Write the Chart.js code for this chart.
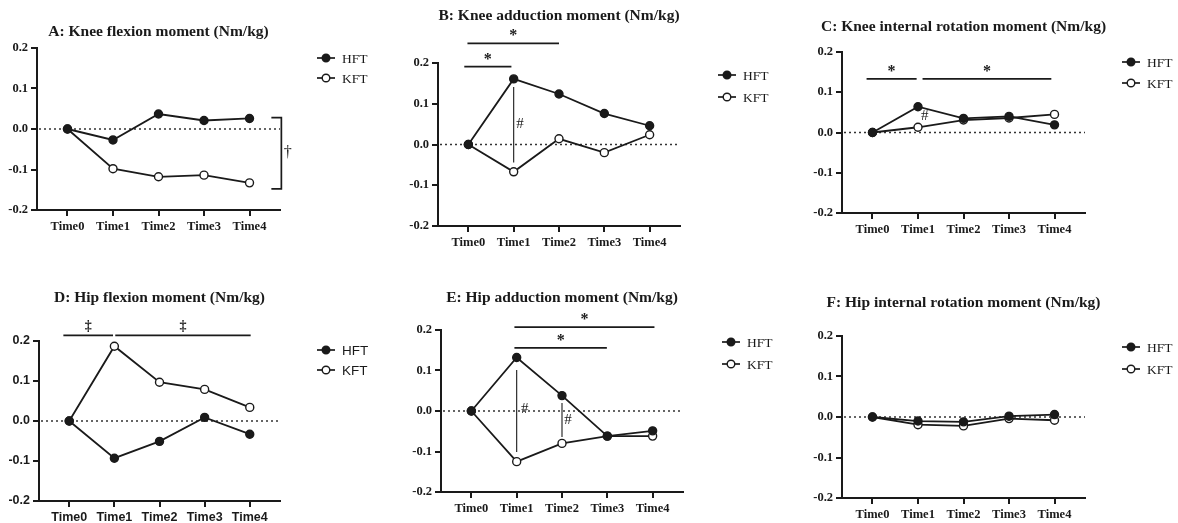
<!DOCTYPE html>
<html>
<head>
<meta charset="utf-8">
<script src="https://cdn.jsdelivr.net/npm/chart.js@4.4.1/dist/chart.umd.min.js"></script>
<style>
  body { margin: 0; background: #fff; }
  #wrap { position: relative; width: 1178px; height: 523px; overflow: hidden; }
  canvas { position: absolute; }
</style>
</head>
<body>
<div id="wrap"></div>
<script>
var categories = ["Time0", "Time1", "Time2", "Time3", "Time4"];
var seriesNames = ["HFT", "KFT"];
var yTicks = [-0.2, -0.1, 0, 0.1, 0.2];

var kneeFlexHFT = [0, -0.027, 0.037, 0.021, 0.026];
var kneeFlexKFT = [0, -0.098, -0.118, -0.114, -0.133];
var kneeAddHFT = [0, 0.161, 0.124, 0.076, 0.046];
var kneeAddKFT = [0, -0.067, 0.014, -0.020, 0.024];
var kneeRotHFT = [0, 0.064, 0.035, 0.040, 0.019];
var kneeRotKFT = [0, 0.013, 0.031, 0.036, 0.045];
var hipFlexHFT = [0, -0.093, -0.051, 0.009, -0.033];
var hipFlexKFT = [0, 0.187, 0.097, 0.079, 0.034];
var hipAddHFT = [0, 0.132, 0.038, -0.062, -0.049];
var hipAddKFT = [0, -0.125, -0.080, -0.062, -0.062];
var hipRotHFT = [0, -0.010, -0.012, 0.002, 0.006];
var hipRotKFT = [0, -0.019, -0.022, -0.004, -0.008];

// significance bars: from/to on the time axis, y in Nm/kg
var kneeAddSig = [{ from: -0.02, to: 2, y: 0.248, mark: "*" }, { from: -0.09, to: 0.95, y: 0.191, mark: "*" }];
var kneeRotSig = [{ from: -0.13, to: 0.97, y: 0.133, mark: "*" }, { from: 1.1, to: 3.93, y: 0.133, mark: "*" }];
var hipFlexSig = [{ from: -0.13, to: 0.97, y: 0.214, mark: "\u2021" }, { from: 1.02, to: 4.02, y: 0.214, mark: "\u2021" }];
var hipAddSig = [{ from: 0.95, to: 4.04, y: 0.207, mark: "*" }, { from: 0.95, to: 2.99, y: 0.156, mark: "*" }];

// group differences at one time point
var kneeAddDiff = [{ x: 1, y1: 0.141, y2: -0.044, mx: 1.14, my: 0.05 }];
var kneeRotDiff = [{ x: 1, y1: null, y2: null, mx: 1.15, my: 0.04 }];
var hipAddDiff = [{ x: 1, y1: 0.101, y2: -0.101, mx: 1.18, my: 0.004 }, { x: 2, y1: 0.02, y2: -0.064, mx: 2.13, my: -0.022 }];

var kneeFlexBracket = { x: 4.7, y1: 0.028, y2: -0.148, mx: 4.84, my: -0.058 };

var panels = [
  { title: "A: Knee flexion moment (Nm/kg)", hft: kneeFlexHFT, kft: kneeFlexKFT, sig: [], diff: [], bracket: kneeFlexBracket },
  { title: "B: Knee adduction moment (Nm/kg)", hft: kneeAddHFT, kft: kneeAddKFT, sig: kneeAddSig, diff: kneeAddDiff },
  { title: "C: Knee internal rotation moment (Nm/kg)", hft: kneeRotHFT, kft: kneeRotKFT, sig: kneeRotSig, diff: kneeRotDiff },
  { title: "D: Hip flexion moment (Nm/kg)", hft: hipFlexHFT, kft: hipFlexKFT, sig: hipFlexSig, diff: [] },
  { title: "E: Hip adduction moment (Nm/kg)", hft: hipAddHFT, kft: hipAddKFT, sig: hipAddSig, diff: hipAddDiff },
  { title: "F: Hip internal rotation moment (Nm/kg)", hft: hipRotHFT, kft: hipRotKFT, sig: [], diff: [] }
];

// page layout: canvas box [x,y,w,h], plot area [l,t,r,b], title centre y, legend [dx, dy, gap]
var layout = [
  { box: [0, 0, 390, 262], area: [37, 48, 280, 210], titleY: 32, legend: [37, 10, 20], sans: false },
  { box: [390, 0, 390, 262], area: [438, 63, 680, 226], titleY: 16, legend: [38, 12, 22], sans: false },
  { box: [780, 0, 398, 262], area: [842, 52, 1085, 213], titleY: 27, legend: [37, 10, 21], sans: false },
  { box: [0, 262, 390, 261], area: [39, 341, 280, 501], titleY: 298, legend: [37, 9, 20], sans: true },
  { box: [390, 262, 390, 261], area: [441, 330, 683, 492], titleY: 298, legend: [39, 12, 22], sans: false },
  { box: [780, 262, 398, 261], area: [842, 336, 1085, 498], titleY: 303, legend: [37, 11, 22], sans: false }
];

var INK = "#1a1a1a";
var SERIF = '"Liberation Serif", "Times New Roman", serif';
var SANS = '"Liberation Sans", Arial, sans-serif';
var AXIS_W = 30, AXIS_H = 20;

function overlayPlugin(p, lay) {
  return {
    id: "overlay",
    beforeDatasetsDraw: function (chart) {
      var ctx = chart.ctx, a = chart.chartArea, y0 = chart.scales.y.getPixelForValue(0);
      ctx.save();
      ctx.strokeStyle = "#333";
      ctx.lineWidth = 1.5;
      ctx.setLineDash([2, 3]);
      ctx.beginPath();
      ctx.moveTo(a.left + 2, y0);
      ctx.lineTo(a.right, y0);
      ctx.stroke();
      ctx.restore();
    },
    afterDatasetsDraw: function (chart) {
      var ctx = chart.ctx, a = chart.chartArea, xs = chart.scales.x, ys = chart.scales.y;
      ctx.save();
      ctx.fillStyle = INK;
      ctx.strokeStyle = INK;

      // title
      ctx.font = "bold 15.5px " + SERIF;
      ctx.textAlign = "center";
      ctx.textBaseline = "middle";
      ctx.fillText(p.title, (a.left + a.right) / 2, lay.titleY - lay.box[1]);

      // significance bars
      p.sig.forEach(function (s) {
        var x1 = xs.getPixelForValue(s.from), x2 = xs.getPixelForValue(s.to), y = ys.getPixelForValue(s.y);
        ctx.lineWidth = 1.7;
        ctx.beginPath();
        ctx.moveTo(x1, y);
        ctx.lineTo(x2, y);
        ctx.stroke();
        ctx.textBaseline = "alphabetic";
        ctx.font = (s.mark === "*" ? "bold 16px " : "bold 14px ") + SERIF;
        ctx.fillText(s.mark, (x1 + x2) / 2, s.mark === "*" ? y - 3 : y - 5);
      });

      // between-group differences
      p.diff.forEach(function (d) {
        if (d.y1 !== null) {
          var x = xs.getPixelForValue(d.x);
          ctx.lineWidth = 1.1;
          ctx.beginPath();
          ctx.moveTo(x, ys.getPixelForValue(d.y1));
          ctx.lineTo(x, ys.getPixelForValue(d.y2));
          ctx.stroke();
        }
        ctx.font = "15px " + SERIF;
        ctx.textBaseline = "middle";
        ctx.fillText("#", xs.getPixelForValue(d.mx), ys.getPixelForValue(d.my));
      });

      // bracket
      if (p.bracket) {
        var b = p.bracket, bx = xs.getPixelForValue(b.x);
        var by1 = ys.getPixelForValue(b.y1), by2 = ys.getPixelForValue(b.y2);
        ctx.lineWidth = 1.7;
        ctx.beginPath();
        ctx.moveTo(bx - 10, by1);
        ctx.lineTo(bx, by1);
        ctx.lineTo(bx, by2);
        ctx.lineTo(bx - 10, by2);
        ctx.stroke();
        ctx.font = "16px " + SERIF;
        ctx.textBaseline = "middle";
        ctx.fillText("\u2020", xs.getPixelForValue(b.mx), ys.getPixelForValue(b.my));
      }

      // legend
      var lx = a.right + lay.legend[0];
      seriesNames.forEach(function (name, i) {
        var ly = a.top + lay.legend[1] + i * lay.legend[2];
        ctx.lineWidth = 1.7;
        ctx.beginPath();
        ctx.moveTo(lx, ly);
        ctx.lineTo(lx + 18, ly);
        ctx.stroke();
        ctx.beginPath();
        ctx.arc(lx + 9, ly, 3.8, 0, Math.PI * 2);
        ctx.fillStyle = i === 0 ? INK : "#fff";
        ctx.fill();
        ctx.lineWidth = 1.4;
        ctx.stroke();
        ctx.fillStyle = INK;
        ctx.font = "13.5px " + (lay.sans ? SANS : SERIF);
        ctx.textAlign = "left";
        ctx.textBaseline = "middle";
        ctx.fillText(name, lx + 25, ly + 1);
        ctx.textAlign = "center";
      });
      ctx.restore();
    }
  };
}

function seriesData(vals) {
  return vals.map(function (v, i) { return { x: i, y: v }; });
}

var wrap = document.getElementById("wrap");

panels.forEach(function (p, k) {
  var lay = layout[k];
  var box = lay.box, ar = lay.area;
  var cv = document.createElement("canvas");
  cv.width = box[2];
  cv.height = box[3];
  cv.style.left = box[0] + "px";
  cv.style.top = box[1] + "px";
  wrap.appendChild(cv);

  var tickFont = { family: lay.sans ? SANS : SERIF, size: 12.5, weight: "bold" };

  new Chart(cv, {
    type: "line",
    data: {
      datasets: [
        {
          label: seriesNames[0],
          data: seriesData(p.hft),
          borderColor: INK,
          backgroundColor: INK,
          pointBackgroundColor: INK,
          pointBorderColor: INK,
          pointRadius: 4,
          pointBorderWidth: 1.4,
          borderWidth: 1.8,
          clip: false
        },
        {
          label: seriesNames[1],
          data: seriesData(p.kft),
          borderColor: INK,
          backgroundColor: "#fff",
          pointBackgroundColor: "#fff",
          pointBorderColor: INK,
          pointRadius: 4,
          pointBorderWidth: 1.4,
          borderWidth: 1.8,
          clip: false
        }
      ]
    },
    options: {
      responsive: false,
      animation: false,
      layout: {
        padding: {
          left: ar[0] - box[0] - AXIS_W,
          top: ar[1] - box[1],
          right: box[0] + box[2] - ar[2],
          bottom: box[1] + box[3] - ar[3] - AXIS_H
        }
      },
      plugins: {
        legend: { display: false },
        title: { display: false },
        tooltip: { enabled: false }
      },
      scales: {
        x: {
          type: "linear",
          min: -0.67,
          max: 4.67,
          afterBuildTicks: function (s) {
            s.ticks = categories.map(function (c, i) { return { value: i }; });
          },
          afterFit: function (s) { s.height = AXIS_H; },
          ticks: {
            callback: function (v) { return categories[v]; },
            font: tickFont,
            color: INK,
            padding: 3,
            maxRotation: 0,
            autoSkip: false
          },
          grid: { drawOnChartArea: false, drawTicks: true, tickLength: 6, color: INK, lineWidth: 2 },
          border: { display: true, color: INK, width: 2 }
        },
        y: {
          min: -0.2,
          max: 0.2,
          afterBuildTicks: function (s) {
            s.ticks = yTicks.map(function (v) { return { value: v }; });
          },
          afterFit: function (s) { s.width = AXIS_W; },
          ticks: {
            callback: function (v) { return v.toFixed(1); },
            font: tickFont,
            color: INK,
            padding: 3
          },
          grid: { drawOnChartArea: false, drawTicks: true, tickLength: 6, color: INK, lineWidth: 2 },
          border: { display: true, color: INK, width: 2 }
        }
      }
    },
    plugins: [overlayPlugin(p, lay)]
  });
});
</script>
</body>
</html>
